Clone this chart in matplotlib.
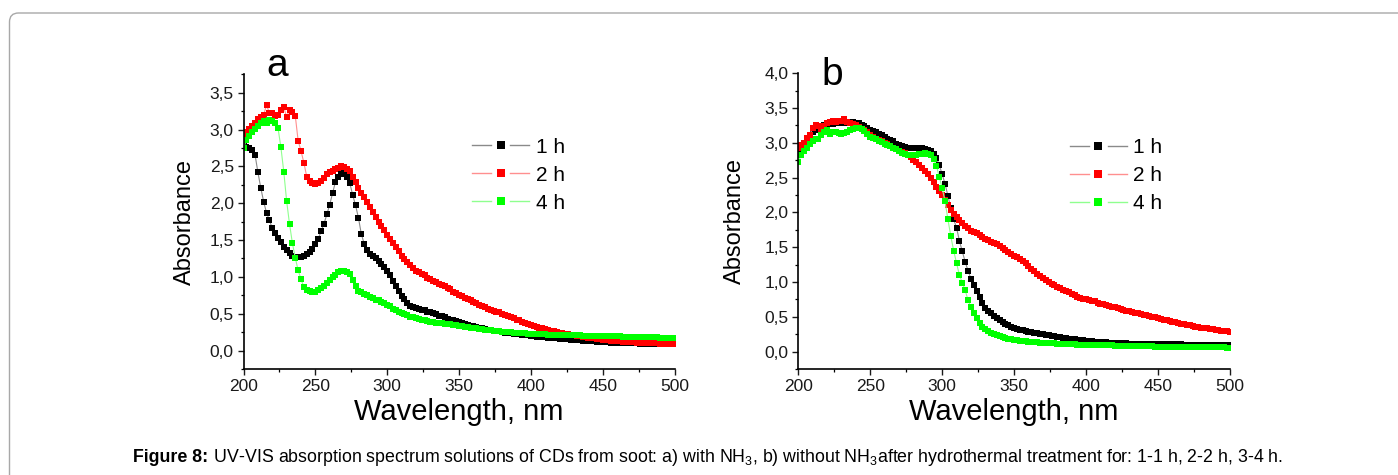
"""
UV-VIS absorption spectra of CDs from soot (Figure 8, panels a and b).
"""

import numpy as np
import matplotlib
matplotlib.use("Agg")
import matplotlib.pyplot as plt
from matplotlib.patches import FancyBboxPatch
from matplotlib.lines import Line2D
from matplotlib.legend_handler import HandlerBase
from matplotlib.ticker import MultipleLocator, FuncFormatter
from matplotlib.transforms import IdentityTransform

plt.rcParams['font.family'] = ['Liberation Sans', 'DejaVu Sans']
plt.rcParams['mathtext.fontset'] = 'custom'
plt.rcParams['mathtext.rm'] = 'Liberation Sans'
plt.rcParams['mathtext.bf'] = 'Liberation Sans:bold'

# wavelength grid, nm (2 nm step)
wavelength = np.arange(200, 501, 2)

labels = ["1 h", "2 h", "4 h"]

# panel a: with NH3
abs_a_1h = [
    2.78, 2.76, 2.75, 2.72, 2.66, 2.42, 2.21, 2.02, 1.87, 1.77,
    1.66, 1.59, 1.53, 1.47, 1.41, 1.36, 1.32, 1.29, 1.27, 1.27,
    1.27, 1.28, 1.31, 1.34, 1.38, 1.45, 1.52, 1.62, 1.72, 1.85,
    1.98, 2.14, 2.29, 2.36, 2.41, 2.40, 2.36, 2.27, 2.11, 1.97,
    1.80, 1.58, 1.45, 1.36, 1.31, 1.28, 1.25, 1.21, 1.18, 1.14,
    1.08, 1.02, 0.94, 0.87, 0.81, 0.74, 0.70, 0.65, 0.61, 0.59,
    0.58, 0.57, 0.555, 0.545, 0.53, 0.52, 0.505, 0.49, 0.475, 0.465,
    0.45, 0.43, 0.42, 0.41, 0.40, 0.385, 0.37, 0.36, 0.35, 0.34,
    0.33, 0.32, 0.31, 0.30, 0.29, 0.285, 0.28, 0.27, 0.265, 0.26,
    0.25, 0.245, 0.24, 0.235, 0.23, 0.225, 0.22, 0.215, 0.21, 0.205,
    0.20, 0.195, 0.19, 0.185, 0.18, 0.178, 0.175, 0.172, 0.168, 0.165,
    0.162, 0.158, 0.155, 0.152, 0.148, 0.145, 0.142, 0.139, 0.136, 0.133,
    0.130, 0.127, 0.124, 0.121, 0.118, 0.115, 0.113, 0.111, 0.109, 0.107,
    0.105, 0.104, 0.102, 0.101, 0.099, 0.098, 0.097, 0.096, 0.095, 0.094,
    0.093, 0.092, 0.091, 0.090, 0.089, 0.088, 0.087, 0.086, 0.086, 0.085,
    0.085,
]
abs_a_2h = [
    2.91, 2.96, 3.01, 3.05, 3.09, 3.14, 3.17, 3.20, 3.33, 3.23,
    3.22, 3.18, 3.20, 3.26, 3.31, 3.17, 3.27, 3.24, 3.19, 2.85,
    2.71, 2.55, 2.36, 2.30, 2.27, 2.26, 2.27, 2.30, 2.34, 2.39,
    2.42, 2.44, 2.46, 2.48, 2.50, 2.49, 2.47, 2.44, 2.36, 2.29,
    2.20, 2.14, 2.08, 2.01, 1.95, 1.88, 1.81, 1.75, 1.69, 1.63,
    1.57, 1.52, 1.46, 1.40, 1.35, 1.29, 1.24, 1.20, 1.16, 1.12,
    1.08, 1.06, 1.04, 1.02, 0.99, 0.97, 0.95, 0.93, 0.91, 0.89,
    0.87, 0.85, 0.83, 0.80, 0.78, 0.76, 0.74, 0.72, 0.70, 0.68,
    0.66, 0.64, 0.62, 0.61, 0.59, 0.57, 0.55, 0.54, 0.53, 0.52,
    0.50, 0.48, 0.47, 0.45, 0.44, 0.42, 0.41, 0.39, 0.37, 0.36,
    0.35, 0.33, 0.32, 0.31, 0.30, 0.29, 0.28, 0.27, 0.26, 0.25,
    0.24, 0.235, 0.23, 0.22, 0.215, 0.21, 0.20, 0.195, 0.19, 0.18,
    0.175, 0.17, 0.165, 0.16, 0.155, 0.15, 0.145, 0.14, 0.136, 0.132,
    0.128, 0.125, 0.122, 0.119, 0.116, 0.113, 0.111, 0.109, 0.107, 0.105,
    0.103, 0.101, 0.099, 0.097, 0.096, 0.095, 0.094, 0.093, 0.092, 0.091,
    0.090,
]
abs_a_4h = [
    2.75, 2.86, 2.91, 2.96, 3.01, 3.05, 3.09, 3.12, 3.09, 3.13,
    3.12, 3.09, 3.02, 2.76, 2.43, 2.03, 1.72, 1.46, 1.26, 1.09,
    0.97, 0.86, 0.82, 0.81, 0.80, 0.80, 0.82, 0.85, 0.88, 0.92,
    0.96, 1.00, 1.03, 1.06, 1.08, 1.08, 1.07, 1.04, 0.96, 0.87,
    0.81, 0.79, 0.77, 0.75, 0.73, 0.71, 0.69, 0.68, 0.66, 0.64,
    0.62, 0.60, 0.57, 0.55, 0.53, 0.51, 0.49, 0.48, 0.46, 0.45,
    0.44, 0.43, 0.42, 0.41, 0.40, 0.39, 0.385, 0.38, 0.375, 0.37,
    0.365, 0.36, 0.355, 0.35, 0.345, 0.34, 0.33, 0.32, 0.315, 0.31,
    0.305, 0.30, 0.295, 0.29, 0.285, 0.28, 0.275, 0.27, 0.265, 0.26,
    0.257, 0.254, 0.251, 0.248, 0.245, 0.242, 0.239, 0.236, 0.233, 0.231,
    0.229, 0.227, 0.225, 0.223, 0.221, 0.219, 0.217, 0.215, 0.214, 0.213,
    0.212, 0.211, 0.210, 0.209, 0.208, 0.207, 0.206, 0.205, 0.204, 0.203,
    0.202, 0.201, 0.200, 0.199, 0.198, 0.197, 0.196, 0.195, 0.194, 0.193,
    0.192, 0.191, 0.190, 0.189, 0.188, 0.187, 0.186, 0.185, 0.184, 0.183,
    0.182, 0.181, 0.180, 0.179, 0.178, 0.177, 0.176, 0.175, 0.174, 0.173,
    0.172,
]

# panel b: without NH3
abs_b_1h = [
    2.87, 2.93, 2.97, 3.05, 3.11, 3.16, 3.19, 3.22, 3.23, 3.25,
    3.26, 3.27, 3.27, 3.28, 3.28, 3.29, 3.29, 3.30, 3.30, 3.30,
    3.29, 3.28, 3.26, 3.24, 3.22, 3.19, 3.17, 3.15, 3.13, 3.11,
    3.09, 3.06, 3.04, 3.02, 2.99, 2.97, 2.95, 2.94, 2.93, 2.93,
    2.92, 2.92, 2.92, 2.92, 2.91, 2.90, 2.88, 2.84, 2.78, 2.68,
    2.55, 2.41, 2.24, 2.06, 1.90, 1.78, 1.59, 1.44, 1.29, 1.16,
    1.05, 0.96, 0.87, 0.78, 0.70, 0.63, 0.59, 0.55, 0.51, 0.48,
    0.45, 0.42, 0.40, 0.38, 0.36, 0.345, 0.33, 0.315, 0.305, 0.295,
    0.285, 0.28, 0.27, 0.265, 0.255, 0.25, 0.24, 0.235, 0.225, 0.22,
    0.21, 0.205, 0.20, 0.195, 0.185, 0.18, 0.175, 0.17, 0.165, 0.16,
    0.155, 0.15, 0.147, 0.144, 0.141, 0.138, 0.135, 0.132, 0.130, 0.128,
    0.126, 0.124, 0.122, 0.120, 0.118, 0.116, 0.115, 0.114, 0.113, 0.112,
    0.111, 0.110, 0.109, 0.108, 0.107, 0.106, 0.105, 0.105, 0.104, 0.104,
    0.103, 0.103, 0.102, 0.102, 0.101, 0.101, 0.100, 0.100, 0.100, 0.099,
    0.099, 0.099, 0.098, 0.098, 0.098, 0.097, 0.097, 0.097, 0.096, 0.096,
    0.096,
]
abs_b_2h = [
    2.93, 2.97, 3.00, 3.07, 3.11, 3.22, 3.25, 3.24, 3.20, 3.24,
    3.29, 3.30, 3.31, 3.30, 3.32, 3.31, 3.35, 3.30, 3.29, 3.27,
    3.25, 3.23, 3.20, 3.18, 3.15, 3.12, 3.09, 3.06, 3.04, 3.02,
    3.00, 2.98, 2.95, 2.93, 2.91, 2.89, 2.87, 2.85, 2.82, 2.79,
    2.76, 2.72, 2.68, 2.64, 2.60, 2.55, 2.50, 2.44, 2.37, 2.31,
    2.25, 2.18, 2.10, 2.03, 1.98, 1.93, 1.89, 1.85, 1.81, 1.77,
    1.74, 1.72, 1.70, 1.68, 1.65, 1.62, 1.60, 1.58, 1.56, 1.54,
    1.52, 1.49, 1.46, 1.43, 1.40, 1.38, 1.36, 1.33, 1.30, 1.27,
    1.23, 1.19, 1.16, 1.12, 1.09, 1.06, 1.03, 1.00, 0.97, 0.95,
    0.93, 0.91, 0.89, 0.87, 0.85, 0.83, 0.81, 0.79, 0.77, 0.76,
    0.75, 0.74, 0.73, 0.72, 0.70, 0.69, 0.68, 0.67, 0.655, 0.645,
    0.635, 0.625, 0.61, 0.60, 0.59, 0.58, 0.57, 0.56, 0.55, 0.54,
    0.53, 0.52, 0.51, 0.50, 0.49, 0.48, 0.47, 0.46, 0.45, 0.44,
    0.43, 0.42, 0.41, 0.40, 0.395, 0.385, 0.375, 0.37, 0.36, 0.355,
    0.345, 0.34, 0.335, 0.325, 0.32, 0.315, 0.31, 0.30, 0.295, 0.29,
    0.285,
]
abs_b_4h = [
    2.72, 2.83, 2.89, 2.93, 2.98, 3.02, 3.05, 3.06, 3.11, 3.16,
    3.18, 3.13, 3.16, 3.15, 3.14, 3.13, 3.14, 3.16, 3.18, 3.20,
    3.22, 3.22, 3.20, 3.17, 3.13, 3.09, 3.07, 3.05, 3.03, 3.01,
    2.99, 2.97, 2.95, 2.93, 2.91, 2.88, 2.86, 2.84, 2.82, 2.82,
    2.83, 2.83, 2.84, 2.84, 2.85, 2.84, 2.82, 2.77, 2.67, 2.51,
    2.35, 2.16, 1.90, 1.66, 1.45, 1.27, 1.10, 0.99, 0.88, 0.74,
    0.64, 0.56, 0.48, 0.41, 0.36, 0.32, 0.29, 0.27, 0.25, 0.235,
    0.22, 0.205, 0.195, 0.185, 0.175, 0.168, 0.162, 0.156, 0.151, 0.147,
    0.143, 0.139, 0.136, 0.133, 0.130, 0.127, 0.124, 0.121, 0.119, 0.117,
    0.115, 0.113, 0.111, 0.109, 0.107, 0.105, 0.103, 0.101, 0.099, 0.098,
    0.097, 0.096, 0.095, 0.094, 0.093, 0.092, 0.091, 0.090, 0.089, 0.088,
    0.087, 0.086, 0.085, 0.084, 0.083, 0.082, 0.081, 0.080, 0.079, 0.078,
    0.077, 0.076, 0.075, 0.074, 0.073, 0.072, 0.071, 0.070, 0.069, 0.068,
    0.067, 0.066, 0.066, 0.065, 0.065, 0.064, 0.064, 0.063, 0.063, 0.062,
    0.062, 0.061, 0.061, 0.060, 0.060, 0.060, 0.059, 0.059, 0.059, 0.058,
    0.058,
]

marker_colors = ["#000000", "#ff0000", "#00ff00"]
line_colors = ["#8a8a8a", "#ff8f8f", "#8fff8f"]

caption_bold = "Figure 8:"
caption_rest = (r" UV-VIS absorption spectrum solutions of CDs from soot: "
                r"a) with NH$_3$, b) without NH$_3$after hydrothermal treatment for: 1-1 h, 2-2 h, 3-4 h.")


def comma_fmt(val, pos):
    return f"{val:.1f}".replace(".", ",")


class GapLineHandler(HandlerBase):
    """Legend key drawn as: line - gap - marker - gap - line."""

    def create_artists(self, legend, orig_handle, xdescent, ydescent,
                       width, height, fontsize, trans):
        y = height / 2 - ydescent
        x0 = -xdescent
        x1 = x0 + width
        seg = 0.33 * width
        lc = orig_handle.get_color()
        mc = orig_handle.get_markerfacecolor()
        left = Line2D([x0, x0 + seg], [y, y], color=lc, lw=1.0, transform=trans)
        right = Line2D([x1 - seg, x1], [y, y], color=lc, lw=1.0, transform=trans)
        mark = Line2D([x0 + width / 2], [y], ls="none", marker="s", ms=5.2,
                      mfc=mc, mec=mc, mew=0, transform=trans)
        return [left, right, mark]


def draw_panel(ax, series, ylim, legend_anchor, ylabel_pad):
    handles = []
    for values, mc, lc, lab in zip(series, marker_colors, line_colors, labels):
        ln, = ax.plot(wavelength, values, color=lc, lw=0.8, marker="s", ms=4.0,
                      mfc=mc, mec=mc, mew=0, label=lab)
        handles.append(ln)

    ax.set_xlim(200, 500)
    ax.set_ylim(*ylim)
    ax.xaxis.set_major_locator(MultipleLocator(50))
    ax.xaxis.set_minor_locator(MultipleLocator(25))
    ax.yaxis.set_major_locator(MultipleLocator(0.5))
    ax.yaxis.set_minor_locator(MultipleLocator(0.25))
    ax.yaxis.set_major_formatter(FuncFormatter(comma_fmt))

    for side in ["top", "right"]:
        ax.spines[side].set_visible(False)
    for side in ["left", "bottom"]:
        ax.spines[side].set_linewidth(1.2)
    ax.tick_params(which="major", direction="out", length=4, width=1.0,
                   labelsize=12.5, pad=3, colors="#1a1a1a")
    ax.tick_params(which="minor", direction="out", length=2.2, width=0.9)

    ax.set_xlabel("Wavelength, nm", fontsize=21, labelpad=3)
    ax.set_ylabel("Absorbance", fontsize=17, labelpad=ylabel_pad)

    ax.legend(handles=handles, loc="upper left", bbox_to_anchor=legend_anchor,
              frameon=False, fontsize=15, handlelength=2.75, handletextpad=0.3,
              labelspacing=0.43, borderpad=0, borderaxespad=0,
              handler_map={Line2D: GapLineHandler()})


fig = plt.figure(figsize=(13.98, 4.75), dpi=100)

# rounded frame around the figure
frame = FancyBboxPatch((9.5, -30), 1430, 462 + 30,
                       boxstyle="round,pad=0,rounding_size=9",
                       transform=IdentityTransform(), fill=False,
                       edgecolor="#a8a8a8", lw=1.0)
fig.patches.append(frame)

ax_a = fig.add_axes([0.1742, 0.2232, 0.3083, 0.6204])
ax_b = fig.add_axes([0.5710, 0.2232, 0.3088, 0.6225])

draw_panel(ax_a, [abs_a_1h, abs_a_2h, abs_a_4h], (-0.25, 3.75), (0.530, 0.785), 9.5)
draw_panel(ax_b, [abs_b_1h, abs_b_2h, abs_b_4h], (-0.25, 4.0), (0.629, 0.78), 13)

fig.text(277 / 1398, 1 - 66 / 475, "a", fontsize=28, ha="center", va="center")
fig.text(832 / 1398, 1 - 75 / 475, "b", fontsize=28, ha="center", va="center")

# caption: bold lead-in followed by plain text, centred as one line
cap_y = 1 - 462 / 475
cap_center = 708
t1 = fig.text(0, cap_y, caption_bold, fontsize=12.8, fontweight="bold",
              ha="left", va="baseline")
t2 = fig.text(0, cap_y, caption_rest, fontsize=12.8, ha="left", va="baseline")
renderer = fig.canvas.get_renderer()
w1 = t1.get_window_extent(renderer).width
w2 = t2.get_window_extent(renderer).width
fig_w = fig.get_figwidth() * fig.dpi
start = cap_center - (w1 + w2) / 2
t1.set_x(start / fig_w)
t2.set_x((start + w1) / fig_w)

fig.savefig("out.png", dpi=100)
